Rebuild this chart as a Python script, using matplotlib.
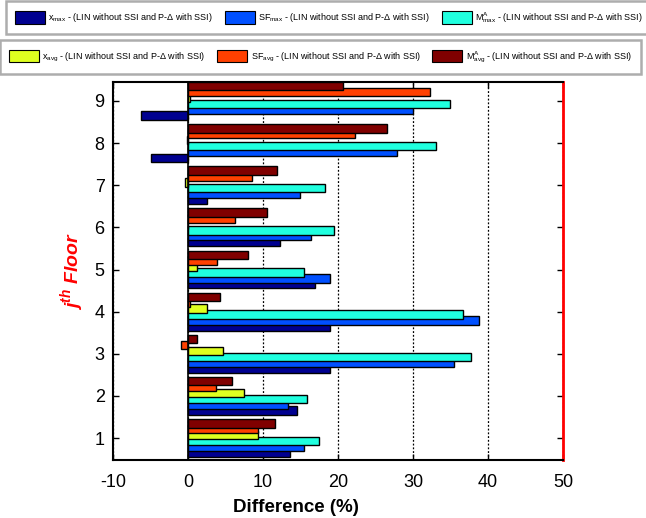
import numpy as np
import matplotlib.pyplot as plt
from matplotlib.patches import Patch

plt.rcParams['font.family'] = ['Liberation Sans', 'DejaVu Sans']
plt.rcParams['mathtext.default'] = 'regular'
plt.rcParams['axes.unicode_minus'] = False

# ----------------------------
# Data: difference (%) per floor
# ----------------------------
floors = [1, 2, 3, 4, 5, 6, 7, 8, 9]
x_max = [13.6, 14.5, 18.9, 18.9, 16.9, 12.3, 2.5, -4.9, -6.25]
sf_max = [15.5, 13.3, 35.4, 38.8, 18.9, 16.4, 14.9, 27.9, 30.0]
m_max = [17.5, 15.8, 37.7, 36.7, 15.5, 19.5, 18.2, 33.1, 34.9]
x_avg = [9.3, 7.4, 4.7, 2.5, 1.2, 0.0, -0.4, -0.2, 0.3]
sf_avg = [9.3, 3.75, -0.9, 0.3, 3.8, 6.25, 8.5, 22.2, 32.2]
m_avg = [11.6, 5.8, 1.2, 4.2, 8.0, 10.5, 11.8, 26.5, 20.7]

suffix = r' - (LIN without SSI and P-$\Delta$ with SSI)'
series = [
    (x_max, '#000090', r'x$_{max}$' + suffix),
    (sf_max, '#0050ff', r'SF$_{max}$' + suffix),
    (m_max, '#20ffdf', r'M$^{A}_{max}$' + suffix),
    (x_avg, '#dfff20', r'x$_{avg}$' + suffix),
    (sf_avg, '#ff4000', r'SF$_{avg}$' + suffix),
    (m_avg, '#800000', r'M$^{A}_{avg}$' + suffix),
]

fig = plt.figure(figsize=(6.46, 5.18), dpi=100)
ax = fig.add_axes([0.175, 0.112, 0.6966, 0.7297])

y = np.array(floors, dtype=float)
step = 0.14
for i, (vals, col, lab) in enumerate(series):
    ax.barh(y + (i - 2.5) * step, vals, height=0.2, color=col,
            edgecolor='black', linewidth=1.0, zorder=3 + i)

ax.axvline(0, color='black', linewidth=1.2, zorder=10)

ax.set_xlim(-10, 50)
ax.set_ylim(0.48, 9.45)
ax.set_xticks([-10, 0, 10, 20, 30, 40, 50])
ax.set_yticks(floors)
ax.tick_params(axis='both', direction='in', length=4, width=1,
               labelsize=13, top=True, right=True)
ax.tick_params(axis='x', pad=10)
ax.tick_params(axis='y', pad=6)
ax.grid(axis='x', linestyle=(0, (1.5, 1.5)), color='black', linewidth=0.9,
        zorder=1)

for side in ['left', 'bottom', 'top']:
    ax.spines[side].set_linewidth(1.5)
ax.spines['right'].set_color('red')
ax.spines['right'].set_linewidth(2)

ax.set_xlabel('Difference (%)', fontsize=13.5, fontweight='bold')
ax.xaxis.set_label_coords(0.407, -0.103)
ax.set_ylabel(r'j$^{th}$ Floor', fontsize=14, fontweight='bold',
              fontstyle='italic', color='red')
ax.yaxis.set_label_coords(-0.06, 0.5)

# two legend strips above the axes
handles = [Patch(facecolor=c, edgecolor='black', linewidth=0.8)
           for _, c, _ in series]
labels = [lab for _, _, lab in series]
leg_kw = dict(ncol=3, fontsize=6.5, frameon=True, fancybox=False,
              handlelength=3.3, handleheight=1.7, handletextpad=0.4,
              columnspacing=1.3, borderpad=1.0, borderaxespad=0,
              loc='upper left')
leg1 = fig.legend(handles[:3], labels[:3],
                  bbox_to_anchor=(6 / 646, 1 - 1 / 518), **leg_kw)
leg2 = fig.legend(handles[3:], labels[3:],
                  bbox_to_anchor=(0 / 646, 1 - 40 / 518), **leg_kw)
for leg in (leg1, leg2):
    leg.get_frame().set_edgecolor('#999999')
    leg.get_frame().set_linewidth(1.8)

fig.savefig('out.png', dpi=100)
